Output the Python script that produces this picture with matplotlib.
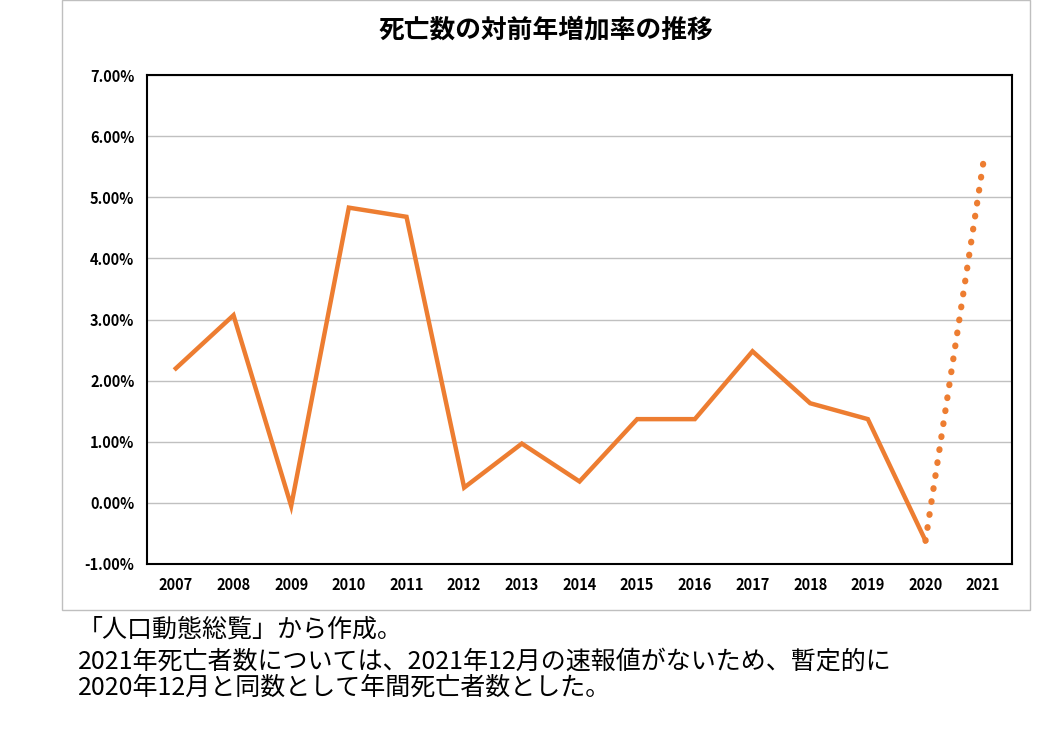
import matplotlib
matplotlib.use("Agg")
import matplotlib.pyplot as plt
from matplotlib.patches import Rectangle
from matplotlib.ticker import FuncFormatter

plt.rcParams['font.family'] = ['Noto Sans CJK JP', 'DejaVu Sans']

years = ['2007','2008','2009','2010','2011','2012','2013','2014','2015','2016','2017','2018','2019','2020','2021']
rates = [2.20, 3.07, -0.05, 4.83, 4.68, 0.25, 0.97, 0.35, 1.37, 1.37, 2.48, 1.63, 1.37, -0.62, 5.55]
title = '死亡数の対前年増加率の推移'
notes = ['「人口動態総覧」から作成。',
         '2021年死亡者数については、2021年12月の速報値がないため、暫定的に',
         '2020年12月と同数として年間死亡者数とした。']

W, H = 1042, 748
fig = plt.figure(figsize=(W/100, H/100), dpi=100)
fig.patches.append(Rectangle((62/W, 1-610/H), (1030-62)/W, 610/H, transform=fig.transFigure,
                             fill=False, edgecolor='#bfbfbf', linewidth=1))
ax = fig.add_axes([147/W, 1-564/H, 865/W, 489/H])
x = list(range(len(years)))
color = '#ED7D31'
ax.plot(x[:-1], rates[:-1], color=color, linewidth=3.2, solid_joinstyle='miter')
ax.plot(x[-2:], rates[-2:], color=color, linewidth=4.5, linestyle=(0, (0.1, 2.0)),
        dash_capstyle='round')
ax.set_xlim(-0.5, len(years)-0.5)
ax.set_ylim(-1, 7)
ax.set_yticks(range(-1, 8))
ax.yaxis.set_major_formatter(FuncFormatter(lambda v, p: f'{v:.2f}%'))
ax.set_xticks(x)
ax.set_xticklabels(years)
ax.grid(axis='y', color='#c0c0c0', linewidth=1)
ax.set_axisbelow(True)
for s in ax.spines.values():
    s.set_color('black'); s.set_linewidth(1.5)
ax.tick_params(length=0, labelsize=10.5, pad=9)
for lab in ax.get_xticklabels() + ax.get_yticklabels():
    lab.set_fontweight('bold')
fig.text(546/W, 1-30/H, title, ha='center', va='center', fontsize=18.5, fontweight='bold')
ys = [630, 662, 688]
for t, yy in zip(notes, ys):
    fig.text(78/W, 1-yy/H, t, ha='left', va='center', fontsize=18)
fig.savefig('out.png', dpi=100)
